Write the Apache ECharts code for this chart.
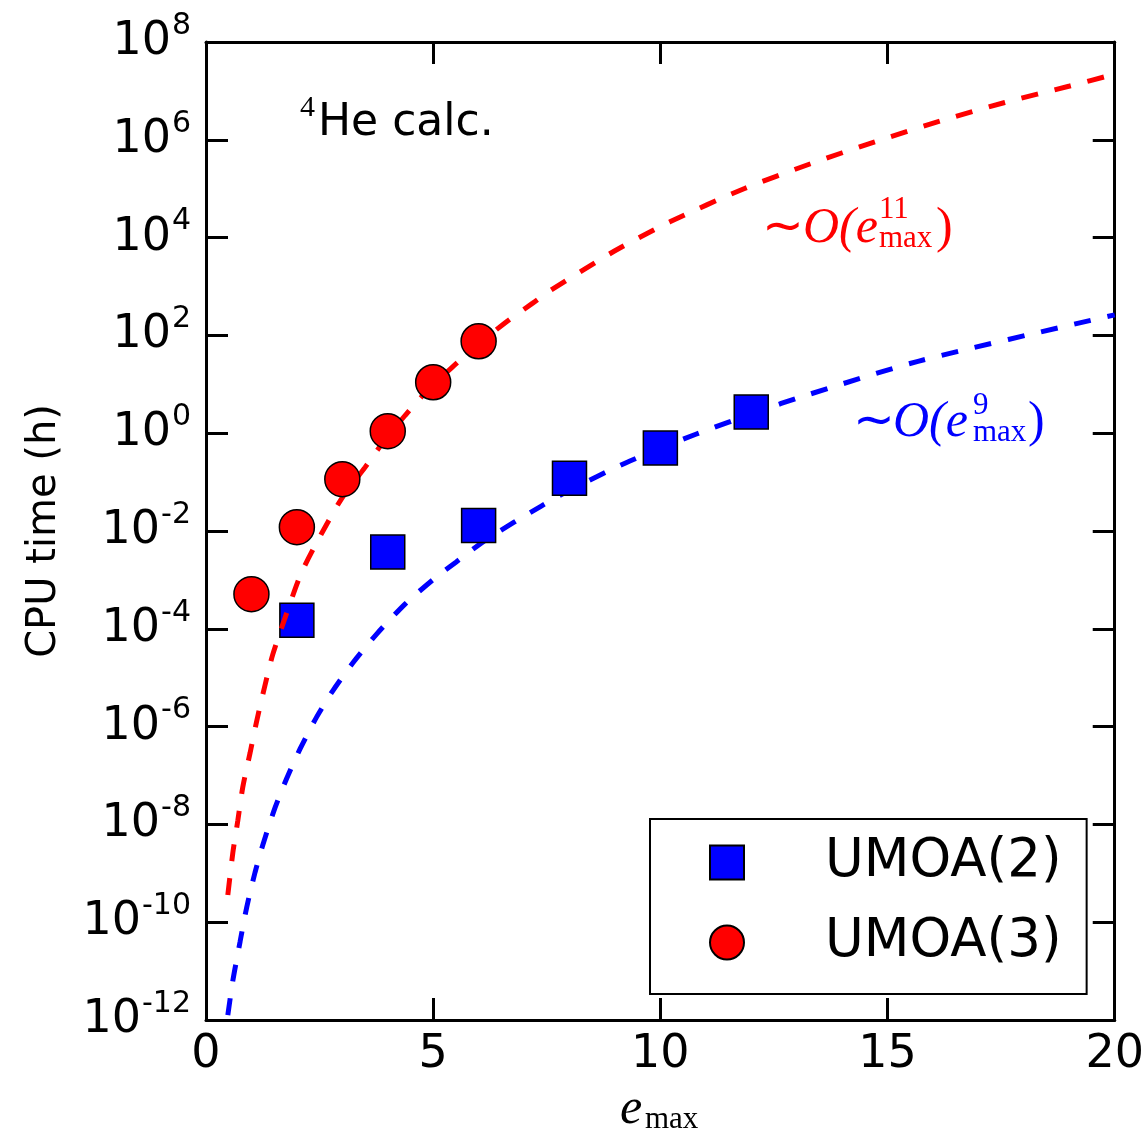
<!DOCTYPE html>
<html>
<head>
<meta charset="utf-8">
<script src="https://cdn.jsdelivr.net/npm/echarts@6/dist/echarts.min.js"></script>
<style>
  html, body { margin: 0; padding: 0; background: #fff; }
  #main { width: 1147px; height: 1133px; }
</style>
</head>
<body>
<div id="main"></div>
<script>
// measured points
var umoa2X = [2, 4, 6, 8, 10, 12];
var umoa2Y = [1.5e-4, 3.7e-3, 0.013, 0.12, 0.5, 2.7];
var umoa3X = [1, 2, 3, 4, 5, 6];
var umoa3Y = [5.1e-4, 0.012, 0.115, 1.1, 11, 76];

// dashed guide curves
var fit11X = [0.48, 0.59, 0.70, 0.81, 0.97, 1.12, 1.30, 1.47, 1.76, 2.1, 2.55, 3.01, 3.50, 3.87, 4.38, 4.82, 5.41, 6.0, 6.6, 7.19, 7.55, 8.98, 10.21, 11.84, 13.29, 14.72, 16.15, 17.58, 19.01, 20];
var fit11Y = [3.6e-10, 2.6e-9, 1.2e-8, 5.8e-8, 2.9e-7, 1.35e-6, 7.1e-6, 3.0e-5, 1.9e-4, 1.4e-3, 9.1e-3, 0.05, 0.2, 0.6, 2.3, 6.6, 22, 66, 186, 457, 794, 5250, 2.1e4, 1.0e5, 3.2e5, 9.1e5, 2.4e6, 5.8e6, 1.26e7, 2.2e7];
var fit9X = [0.48, 0.59, 0.75, 0.90, 1.08, 1.25, 1.52, 1.78, 2.07, 2.44, 2.79, 3.23, 3.76, 4.38, 4.99, 5.50, 6.18, 7.37, 8.05, 9.33, 10.78, 12.23, 13.09, 15.67, 20];
var fit9Y = [1.26e-12, 6.3e-12, 4.0e-11, 2.1e-10, 1.05e-9, 3.8e-9, 2.2e-8, 8.9e-8, 3.5e-7, 1.6e-6, 5.4e-6, 2.0e-5, 7.9e-5, 3.2e-4, 1.0e-3, 2.3e-3, 6.8e-3, 0.032, 0.072, 0.27, 0.95, 2.95, 5.5, 29.5, 263];

var xTicks = [0, 5, 10, 15, 20];

function pairs(xs, ys) {
    return xs.map(function(x, i) { return [x, ys[i]]; });
}

var sans = 'DejaVu Sans';
var serif = 'Liberation Serif';

var axisLine = { onZero: false, lineStyle: { color: '#000', width: 3 } };
var axisTick = { inside: true, length: 22, lineStyle: { color: '#000', width: 3 } };

function expLabel(v) {
    var e = Math.round(Math.log(v) / Math.LN10);
    return '{b|10}{s|' + e + '}';
}

var myChart = echarts.init(document.getElementById('main'));
myChart.setOption({
    backgroundColor: '#fff',
    animation: false,
    grid: { left: 206, right: 32, top: 42, bottom: 113, containLabel: false },
    legend: {
        orient: 'vertical',
        left: 650,
        top: 819,
        padding: [17, 25, 25, 59],
        borderColor: '#000',
        borderWidth: 2,
        itemWidth: 34,
        itemHeight: 34,
        itemGap: 27,
        data: ['UMOA(2)', 'UMOA(3)'],
        textStyle: { fontSize: 53, fontFamily: sans, color: '#000', lineHeight: 53, padding: [0, 0, 0, 76] }
    },
    xAxis: [{
        type: 'value', min: 0, max: 20, interval: 5, position: 'bottom',
        axisLine: axisLine, axisTick: axisTick, splitLine: { show: false },
        axisLabel: {
            fontSize: 46, fontFamily: sans, color: '#000', margin: 12,
            formatter: function(v) { return xTicks.indexOf(v) >= 0 ? String(v) : ''; }
        }
    }, {
        type: 'value', min: 0, max: 20, interval: 5, position: 'top',
        axisLine: axisLine, axisTick: axisTick, splitLine: { show: false },
        axisLabel: { show: false }
    }],
    yAxis: [{
        type: 'log', logBase: 10, min: 1e-12, max: 1e8, interval: 2, position: 'left',
        axisLine: axisLine, axisTick: axisTick, splitLine: { show: false },
        minorTick: { show: false },
        name: 'CPU time (h)', nameLocation: 'middle', nameGap: 141, nameRotate: 90,
        nameTextStyle: { fontSize: 40, fontFamily: sans, color: '#000' },
        axisLabel: {
            margin: 15, color: '#000',
            formatter: expLabel,
            rich: {
                b: { fontSize: 46, fontFamily: sans, color: '#000' },
                s: { fontSize: 30, fontFamily: sans, color: '#000', padding: [0, 0, 32, 1] }
            }
        }
    }, {
        type: 'log', logBase: 10, min: 1e-12, max: 1e8, interval: 2, position: 'right',
        axisLine: axisLine, axisTick: axisTick, splitLine: { show: false },
        axisLabel: { show: false }
    }],
    series: [{
        name: 'fit9', type: 'line', z: 1, showSymbol: false, smooth: 0.25,
        lineStyle: { color: '#0000ff', width: 5, type: [17, 17] },
        data: pairs(fit9X, fit9Y)
    }, {
        name: 'UMOA(2)', type: 'scatter', z: 2, symbol: 'rect', symbolSize: 34,
        itemStyle: { color: '#0000ff', opacity: 1, borderColor: '#000', borderWidth: 1.5 },
        data: pairs(umoa2X, umoa2Y)
    }, {
        name: 'fit11', type: 'line', z: 3, showSymbol: false, smooth: 0.25,
        lineStyle: { color: '#ff0000', width: 5, type: [17, 17] },
        data: pairs(fit11X, fit11Y)
    }, {
        name: 'UMOA(3)', type: 'scatter', z: 4, symbol: 'circle', symbolSize: 35,
        itemStyle: { color: '#ff0000', opacity: 1, borderColor: '#000', borderWidth: 1.5 },
        data: pairs(umoa3X, umoa3Y)
    }],
    graphic: [
        // 4He calc.
        { type: 'text', style: { x: 300, y: 108, text: '4', fontSize: 30, fontFamily: serif, fill: '#000', verticalAlign: 'middle' } },
        { type: 'text', style: { x: 318, y: 124, text: 'He calc.', fontSize: 44, fontFamily: sans, fill: '#000', verticalAlign: 'middle' } },
        // ~O(e^11_max)
        { type: 'text', style: { x: 762, y: 229, text: '∼', fontSize: 50, fontFamily: serif, fill: '#ff0000', verticalAlign: 'middle' } },
        { type: 'text', style: { x: 803, y: 229, text: 'O(e', fontSize: 50, fontFamily: serif, fontStyle: 'italic', fill: '#ff0000', verticalAlign: 'middle' } },
        { type: 'text', style: { x: 879, y: 210, text: '11', fontSize: 31, fontFamily: serif, fill: '#ff0000', verticalAlign: 'middle' } },
        { type: 'text', style: { x: 879, y: 239, text: 'max', fontSize: 31, fontFamily: serif, fill: '#ff0000', verticalAlign: 'middle' } },
        { type: 'text', style: { x: 936, y: 229, text: ')', fontSize: 50, fontFamily: serif, fill: '#ff0000', verticalAlign: 'middle' } },
        // ~O(e^9_max)
        { type: 'text', style: { x: 853, y: 423, text: '∼', fontSize: 50, fontFamily: serif, fill: '#0000ff', verticalAlign: 'middle' } },
        { type: 'text', style: { x: 893, y: 423, text: 'O(e', fontSize: 50, fontFamily: serif, fontStyle: 'italic', fill: '#0000ff', verticalAlign: 'middle' } },
        { type: 'text', style: { x: 973, y: 406, text: '9', fontSize: 31, fontFamily: serif, fill: '#0000ff', verticalAlign: 'middle' } },
        { type: 'text', style: { x: 973, y: 433, text: 'max', fontSize: 31, fontFamily: serif, fill: '#0000ff', verticalAlign: 'middle' } },
        { type: 'text', style: { x: 1028, y: 423, text: ')', fontSize: 50, fontFamily: serif, fill: '#0000ff', verticalAlign: 'middle' } },
        // x axis name e_max
        { type: 'text', style: { x: 620, y: 1110, text: 'e', fontSize: 50, fontFamily: serif, fontStyle: 'italic', fill: '#000', verticalAlign: 'middle' } },
        { type: 'text', style: { x: 645, y: 1120, text: 'max', fontSize: 31, fontFamily: serif, fill: '#000', verticalAlign: 'middle' } }
    ]
});
</script>
</body>
</html>
